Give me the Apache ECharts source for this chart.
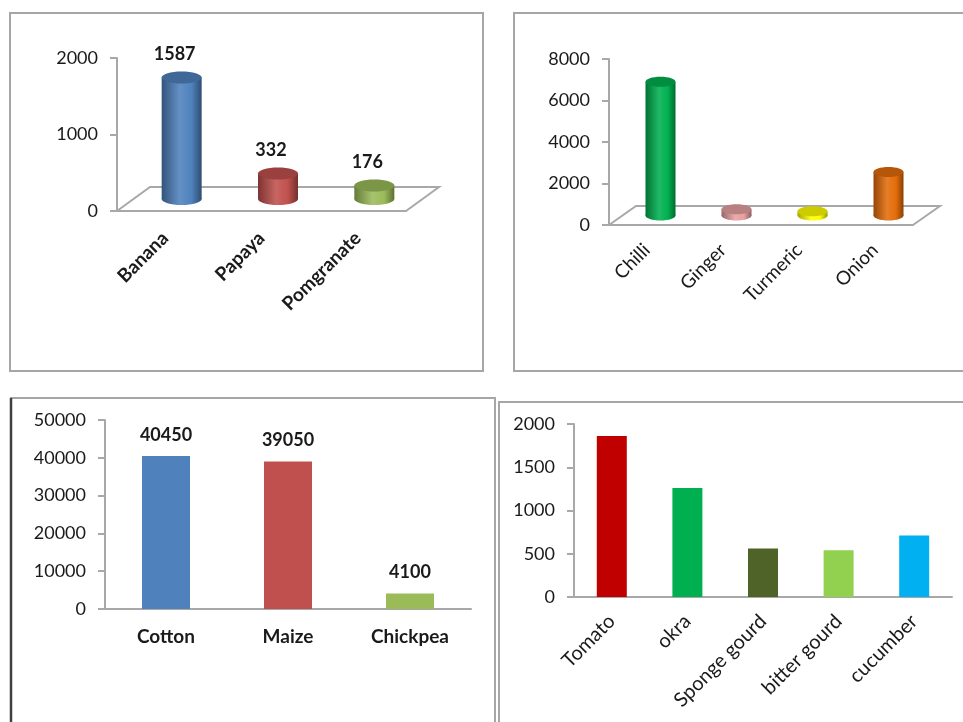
<!DOCTYPE html>
<html>
<head>
<meta charset="utf-8">
<script src="https://cdn.jsdelivr.net/npm/echarts@6/dist/echarts.min.js"></script>
<style>
  html, body { margin: 0; padding: 0; background: #fff; }
  #chart { width: 963px; height: 722px; }
</style>
</head>
<body>
<div id="chart"></div>
<script>
// fruits (3D cylinders, labelled)
const fruitNames = ["Banana", "Papaya", "Pomgranate"];
const fruitValues = [1587, 332, 176];
const fruitColors = ["#4f81bd", "#c0504d", "#9bbb59"];

// spices (3D cylinders)
const spiceNames = ["Chilli", "Ginger", "Turmeric", "Onion"];
const spiceValues = [6450, 300, 200, 2100];
const spiceColors = ["#00b050", "#e6a0a0", "#ffff00", "#e36c0a"];

// field crops
const cropNames = ["Cotton", "Maize", "Chickpea"];
const cropValues = [40450, 39050, 4100];
const cropColors = ["#4f81bd", "#c0504d", "#9bbb59"];

// vegetables
const vegNames = ["Tomato", "okra", "Sponge gourd", "bitter gourd", "cucumber"];
const vegValues = [1860, 1260, 560, 540, 710];
const vegColors = ["#c00000", "#00b050", "#4f6228", "#92d050", "#00b0f0"];

const FONT = "Lato";
const AXIS_GREY = "#a8a8a8";
const TEXT = "#1a1a1a";

function shade(hex, f) {
    const n = parseInt(hex.slice(1), 16);
    let r = (n >> 16) & 255, g = (n >> 8) & 255, b = n & 255;
    const mix = (c) => f < 0 ? Math.round(c * (1 + f)) : Math.round(c + (255 - c) * f);
    r = mix(r); g = mix(g); b = mix(b);
    return "rgb(" + r + "," + g + "," + b + ")";
}

// floor of a 3D chart, drawn from the grid rect
function floorSeries(gridIndex, dx, dy) {
    return {
        type: "custom",
        xAxisIndex: gridIndex,
        yAxisIndex: gridIndex,
        z: 1,
        silent: true,
        data: [[0, 0]],
        renderItem: function (params) {
            const cs = params.coordSys;
            const y0 = cs.y + cs.height;
            return {
                type: "polyline",
                shape: {
                    points: [
                        [cs.x, y0],
                        [cs.x + dx, y0 - dy],
                        [cs.x + cs.width + dx, y0 - dy],
                        [cs.x + cs.width, y0],
                    ],
                },
                style: { stroke: AXIS_GREY, lineWidth: 2, fill: null },
            };
        },
    };
}

function cylinderSeries(gridIndex, values, colors, dx, dy, w, ry, showLabel) {
    return {
        type: "custom",
        xAxisIndex: gridIndex,
        yAxisIndex: gridIndex,
        z: 3,
        data: values.map((v, i) => [i, v]),
        encode: { x: 0, y: 1 },
        renderItem: function (params, api) {
            const i = api.value(0);
            const v = api.value(1);
            const top = api.coord([i, v]);
            const bot = api.coord([i, 0]);
            const cx = top[0] + dx / 2;
            const ty = top[1] - dy / 2;
            const by = bot[1] - dy / 2;
            const c = colors[i];
            const grad = new echarts.graphic.LinearGradient(0, 0, 1, 0, [
                { offset: 0, color: shade(c, -0.35) },
                { offset: 0.45, color: shade(c, 0.12) },
                { offset: 0.75, color: c },
                { offset: 1, color: shade(c, -0.4) },
            ]);
            const children = [
                { type: "ellipse", shape: { cx: cx, cy: by, rx: w / 2, ry: ry }, style: { fill: grad } },
                { type: "rect", shape: { x: cx - w / 2, y: ty, width: w, height: by - ty }, style: { fill: grad } },
                { type: "ellipse", shape: { cx: cx, cy: ty, rx: w / 2, ry: ry }, style: { fill: shade(c, -0.2) } },
            ];
            if (showLabel) {
                children.push({
                    type: "text",
                    style: {
                        text: String(v),
                        x: cx - 7,
                        y: ty - ry - 8,
                        align: "center",
                        verticalAlign: "bottom",
                        font: "bold 18px " + FONT,
                        fill: TEXT,
                    },
                });
            }
            return { type: "group", children: children };
        },
    };
}

function catAxis(gridIndex, names, opts) {
    return Object.assign({
        type: "category",
        gridIndex: gridIndex,
        data: names,
        axisLine: { lineStyle: { color: AXIS_GREY, width: 2 } },
        axisTick: { length: 7, lineStyle: { color: AXIS_GREY, width: 2 } },
        splitLine: { show: false },
    }, opts);
}

function valAxis(gridIndex, max, interval) {
    return {
        type: "value",
        gridIndex: gridIndex,
        min: 0,
        max: max,
        interval: interval,
        axisLine: { show: true, lineStyle: { color: AXIS_GREY, width: 2 } },
        axisTick: { show: true, length: 7, lineStyle: { color: AXIS_GREY, width: 2 } },
        splitLine: { show: false },
        axisLabel: {
            margin: 19,
            fontFamily: FONT,
            fontSize: 18,
            color: TEXT,
            formatter: (v) => String(v),
        },
    };
}

const chart = echarts.init(document.getElementById("chart"), null, { renderer: "canvas" });

const borderStyle = { stroke: "#a6a6a6", lineWidth: 2, fill: null };

chart.setOption({
    backgroundColor: "#fff",
    animation: false,
    graphic: [
        { type: "rect", shape: { x: 10, y: 13, width: 473, height: 358 }, style: borderStyle, z: 0 },
        { type: "rect", shape: { x: 514, y: 13, width: 470, height: 358 }, style: borderStyle, z: 0 },
        { type: "rect", shape: { x: 11, y: 398, width: 484, height: 340 }, style: borderStyle, z: 0 },
        { type: "line", shape: { x1: 11, y1: 398, x2: 11, y2: 722 }, style: { stroke: "#404040", lineWidth: 2.5 }, z: 0 },
        { type: "rect", shape: { x: 499, y: 402, width: 480, height: 340 }, style: borderStyle, z: 0 },
    ],
    grid: [
        { left: 117, top: 58, width: 289, height: 153 },
        { left: 609, top: 59, width: 304, height: 166 },
        { left: 105, top: 420, width: 366, height: 189 },
        { left: 574, top: 424, width: 378, height: 173 },
    ],
    xAxis: [
        catAxis(0, fruitNames, {
            axisLabel: { rotate: 45, margin: 24, fontFamily: FONT, fontSize: 19, fontWeight: "bold", color: TEXT },
        }),
        catAxis(1, spiceNames, {
            axisLabel: { rotate: 45, margin: 22, fontFamily: FONT, fontSize: 19, color: TEXT },
        }),
        catAxis(2, cropNames, {
            axisLabel: { margin: 18, fontFamily: FONT, fontSize: 19, fontWeight: "bold", color: TEXT },
        }),
        catAxis(3, vegNames, {
            axisLabel: { rotate: 45, margin: 21, fontFamily: FONT, fontSize: 20, color: TEXT },
        }),
    ],
    yAxis: [
        valAxis(0, 2000, 1000),
        valAxis(1, 8000, 2000),
        valAxis(2, 50000, 10000),
        valAxis(3, 2000, 500),
    ],
    series: [
        floorSeries(0, 33, 24),
        cylinderSeries(0, fruitValues, fruitColors, 33, 24, 40, 6, true),
        floorSeries(1, 27, 19),
        cylinderSeries(1, spiceValues, spiceColors, 27, 19, 30, 5, false),
        {
            type: "bar",
            xAxisIndex: 2,
            yAxisIndex: 2,
            barWidth: 48,
            data: cropValues.map((v, i) => ({ value: v, itemStyle: { color: cropColors[i] } })),
            label: {
                show: true,
                position: "top",
                distance: 12,
                fontFamily: FONT,
                fontSize: 18,
                fontWeight: "bold",
                color: TEXT,
            },
        },
        {
            type: "bar",
            xAxisIndex: 3,
            yAxisIndex: 3,
            barWidth: 30,
            data: vegValues.map((v, i) => ({ value: v, itemStyle: { color: vegColors[i] } })),
        },
    ],
});
</script>
</body>
</html>
